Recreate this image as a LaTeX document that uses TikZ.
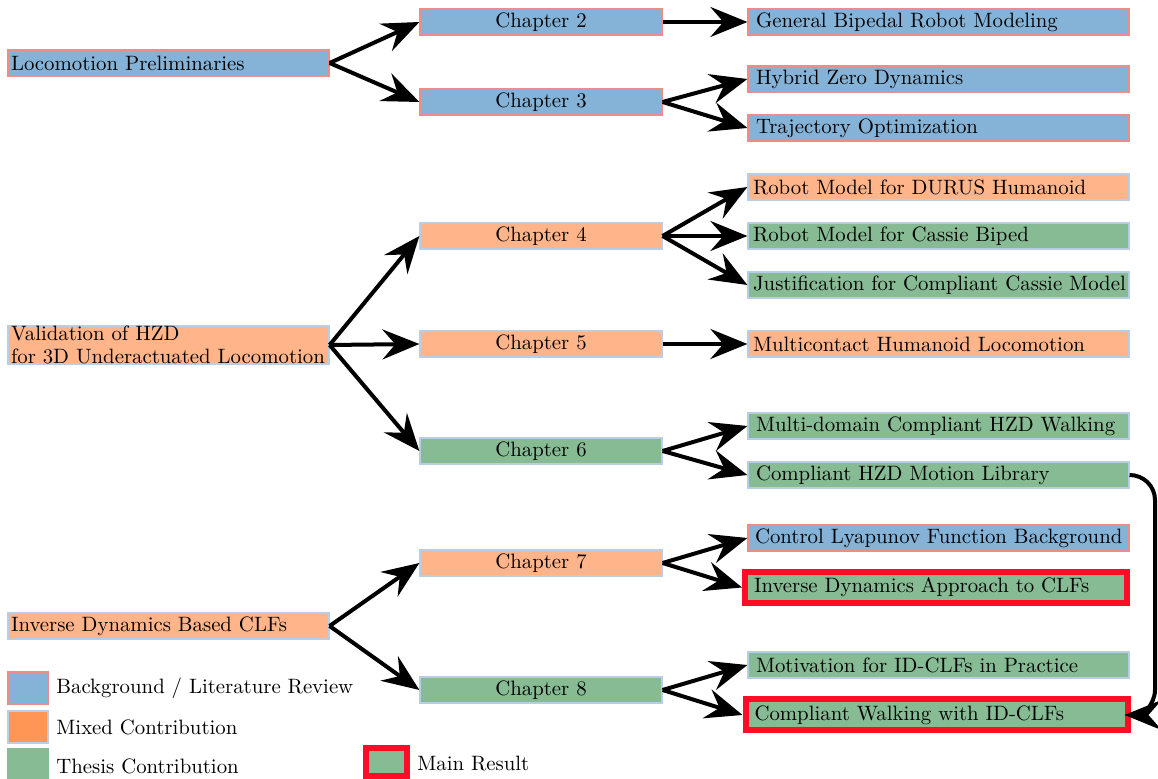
\documentclass[tikz,border=0pt]{standalone}
\usetikzlibrary{arrows.meta}
\definecolor{cblue}{RGB}{133,179,216}
\definecolor{corange}{RGB}{255,180,138}
\definecolor{corangeL}{RGB}{255,150,85}
\definecolor{cgreen}{RGB}{135,187,148}
\definecolor{cpink}{RGB}{238,140,140}
\definecolor{cedge}{RGB}{185,205,228}
\definecolor{cred}{RGB}{255,12,38}
\tikzset{
  base/.style={rectangle, inner xsep=3.5pt, inner ysep=0pt, line width=0.6pt, font=\fontsize{10.4}{11.5}\selectfont},
  bluebox/.style={base, fill=cblue, draw=cpink},
  orbox/.style={base, fill=corange, draw=cedge},
  grbox/.style={base, fill=cgreen, draw=cedge},
  chap/.style={minimum width=121pt, minimum height=13pt, align=center},
  leaf/.style={inner xsep=4pt, text width=182.5pt, minimum height=13pt, align=left},
  wideleaf/.style={inner xsep=2.5pt, text width=185.5pt, minimum height=13pt, align=left},
  root/.style={inner xsep=1.5pt, text width=157.5pt, minimum height=13pt, align=left},
  mainres/.style={base, fill=cgreen, draw=cred, line width=3pt, inner xsep=4.5pt, text width=182pt, minimum height=15.5pt, align=left},
  legbox/.style={rectangle, minimum width=20pt, minimum height=16pt, inner sep=0pt, line width=0.6pt},
  legtext/.style={anchor=west, inner sep=0pt, font=\fontsize{10.4}{12.5}\selectfont},
  conn/.style={line width=2pt, -{Stealth[length=18.5pt,width=15pt,inset=6.5pt]}},
}
\begin{document}
\begin{tikzpicture}[x=0.5pt, y=-0.5pt]
\useasboundingbox (0,0) rectangle (1158,779);
% roots
\node[bluebox,root] (loco) at (168.5,63) {Locomotion Preliminaries};
\node[orbox,root] (val) at (168.5,345) {Validation of HZD\\\mbox{for 3D Underactuated Locomotion}};
\node[orbox,root] (idc) at (168.5,626) {Inverse Dynamics Based CLFs};
% chapters
\node[bluebox,chap] (ch2) at (541,22) {Chapter 2};
\node[bluebox,chap] (ch3) at (541,102) {Chapter 3};
\node[orbox,chap] (ch4) at (541,236) {Chapter 4};
\node[orbox,chap] (ch5) at (541,344) {Chapter 5};
\node[grbox,chap] (ch6) at (541,451) {Chapter 6};
\node[orbox,chap] (ch7) at (541,563) {Chapter 7};
\node[grbox,chap] (ch8) at (541,690) {Chapter 8};
% leaves
\node[bluebox,leaf] (gen) at (938.5,22) {General Bipedal Robot Modeling};
\node[bluebox,leaf] (hzd) at (938.5,79) {Hybrid Zero Dynamics};
\node[bluebox,leaf] (traj) at (938.5,128) {Trajectory Optimization};
\node[orbox,wideleaf] (durus) at (938.5,187) {Robot Model for DURUS Humanoid};
\node[grbox,wideleaf] (cassie) at (938.5,236) {Robot Model for Cassie Biped};
\node[grbox,wideleaf] (just) at (938.5,285) {\mbox{Justification for Compliant Cassie Model}};
\node[orbox,wideleaf] (multi) at (938.5,344) {Multicontact Humanoid Locomotion};
\node[grbox,leaf] (md) at (938.5,426) {Multi-domain Compliant HZD Walking};
\node[grbox,leaf] (lib) at (938.5,475) {Compliant HZD Motion Library};
\node[bluebox,leaf,inner xsep=3.5pt,text width=183.5pt] (clf) at (938.5,538) {\mbox{Control Lyapunov Function Background}};
\node[mainres] (ida) at (936,587.5) {Inverse Dynamics Approach to CLFs};
\node[grbox,leaf] (mot) at (938.5,665) {Motivation for ID-CLFs in Practice};
\node[mainres] (walk) at (936.5,715) {Compliant Walking with ID-CLFs};
% connectors
\draw[conn] (loco.east) -- (ch2.west);
\draw[conn] (loco.east) -- (ch3.west);
\draw[conn] (ch2.east) -- (gen.west);
\draw[conn] (ch3.east) -- (hzd.west);
\draw[conn] (ch3.east) -- (traj.west);
\draw[conn] (val.east) -- (ch4.west);
\draw[conn] (val.east) -- (ch5.west);
\draw[conn] (val.east) -- (ch6.west);
\draw[conn] (ch4.east) -- (durus.west);
\draw[conn] (ch4.east) -- (cassie.west);
\draw[conn] (ch4.east) -- (just.west);
\draw[conn] (ch5.east) -- (multi.west);
\draw[conn] (ch6.east) -- (md.west);
\draw[conn] (ch6.east) -- (lib.west);
\draw[conn] (idc.east) -- (ch7.west);
\draw[conn] (idc.east) -- (ch8.west);
\draw[conn] (ch7.east) -- (clf.west);
\draw[conn] (ch7.east) -- (ida.west);
\draw[conn] (ch8.east) -- (mot.west);
\draw[conn] (ch8.east) -- (walk.west);
\draw[conn] (lib.east) to[out=0,in=90] (1155,500) -- (1155,690) to[out=-90,in=0] ([xshift=-3pt]walk.east);
% legend
\node[legbox, fill=cblue, draw=cpink] (lb1) at (28,688) {};
\node[legtext] (lt1) at (56,688) {Background / Literature Review};
\node[legbox, fill=corangeL, draw=cedge] (lb2) at (28,727) {};
\node[legtext] (lt2) at (56,727) {Mixed Contribution};
\node[legbox, fill=cgreen, draw=cgreen] (lb3) at (28,765) {};
\node[legtext] (lt3) at (56,766) {Thesis Contribution};
\node[rectangle, fill=cgreen, draw=cred, line width=3pt, minimum width=20.5pt, minimum height=14pt, inner sep=0pt] (lb4) at (386.5,762) {};
\node[legtext] (lt4) at (417,764) {Main Result};
\end{tikzpicture}
\end{document}
